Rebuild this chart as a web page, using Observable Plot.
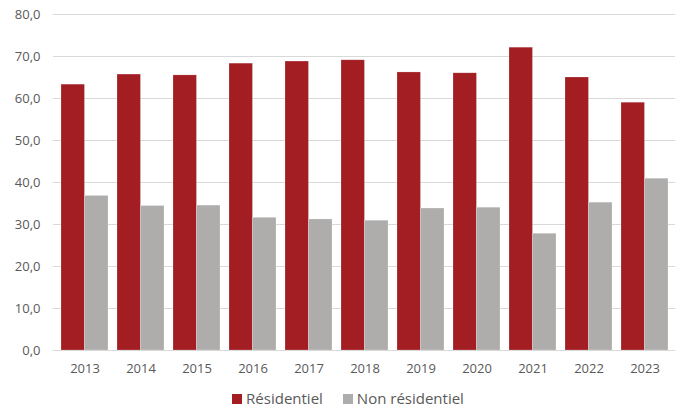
<!DOCTYPE html>
<html>
<head>
<meta charset="utf-8">
<script src="https://cdn.jsdelivr.net/npm/d3@7"></script>
<script src="https://cdn.jsdelivr.net/npm/@observablehq/plot@0.6"></script>
<style>
  html, body { margin: 0; padding: 0; background: #fff; }
  #chart { width: 682px; }
  .legend { display: flex; justify-content: center; align-items: center; gap: 20px;
    font-family: "Open Sans", "Liberation Sans", sans-serif; font-size: 15px; color: #595959;
    margin-top: 3px; padding-left: 14px; }
  .legend span.sw { display: inline-block; width: 10px; height: 10px; margin-right: 4px; vertical-align: 0px; }
</style>
</head>
<body>
<div id="chart"></div>
<script>
const years = ["2013","2014","2015","2016","2017","2018","2019","2020","2021","2022","2023"];
const series = ["Résidentiel", "Non résidentiel"];
const residentiel = [63.3, 65.7, 65.5, 68.3, 68.8, 69.1, 66.2, 66.0, 72.1, 65.0, 59.0];
const nonResidentiel = [36.8, 34.4, 34.5, 31.6, 31.2, 30.9, 33.8, 34.0, 27.8, 35.2, 40.9];
const colors = ["#A21E23", "#AEADAC"];
const yTicks = [0, 10, 20, 30, 40, 50, 60, 70, 80];

const resData = years.map((y, i) => ({year: y, series: series[0], value: residentiel[i]}));
const nonData = years.map((y, i) => ({year: y, series: series[1], value: nonResidentiel[i]}));

const fmt = v => d3.format(".1f")(v).replace(".", ",");

const width = 682, marginLeft = 53, marginRight = 7;
const paddingInner = 0.167, paddingOuter = paddingInner / 2;
const n = years.length;
const step = (width - marginLeft - marginRight) / (n - paddingInner + 2 * paddingOuter);
const half = step * (1 - paddingInner) / 2;

const chart = Plot.plot({
  width,
  height: 385,
  marginLeft,
  marginRight,
  marginTop: 14,
  marginBottom: 35,
  style: {fontFamily: "'Open Sans', 'Liberation Sans', sans-serif", fontSize: "13px", color: "#595959", background: "#fff"},
  x: {domain: years, paddingInner, paddingOuter, label: null, tickSize: 0, tickPadding: 13},
  y: {domain: [0, 80], ticks: yTicks, tickFormat: fmt, label: null, tickSize: 0, tickPadding: 13},
  color: {domain: series, range: colors},
  marks: [
    Plot.gridY(yTicks, {stroke: "#D9D9D9", strokeOpacity: 1, strokeWidth: 1}),
    Plot.barY(resData, {x: "year", y: "value", fill: "series", insetRight: half, stroke: "#fff", strokeOpacity: 0.35, strokeWidth: 0.6}),
    Plot.barY(nonData, {x: "year", y: "value", fill: "series", insetLeft: half, stroke: "#fff", strokeOpacity: 0.35, strokeWidth: 0.6}),
    Plot.ruleY([0], {stroke: "#D9D9D9", strokeWidth: 1})
  ]
});
document.getElementById("chart").appendChild(chart);

const legend = document.createElement("div");
legend.className = "legend";
series.forEach((s, i) => {
  const item = document.createElement("div");
  const sw = document.createElement("span");
  sw.className = "sw";
  sw.style.background = colors[i];
  item.appendChild(sw);
  item.appendChild(document.createTextNode(s));
  legend.appendChild(item);
});
document.body.appendChild(legend);
</script>
</body>
</html>
